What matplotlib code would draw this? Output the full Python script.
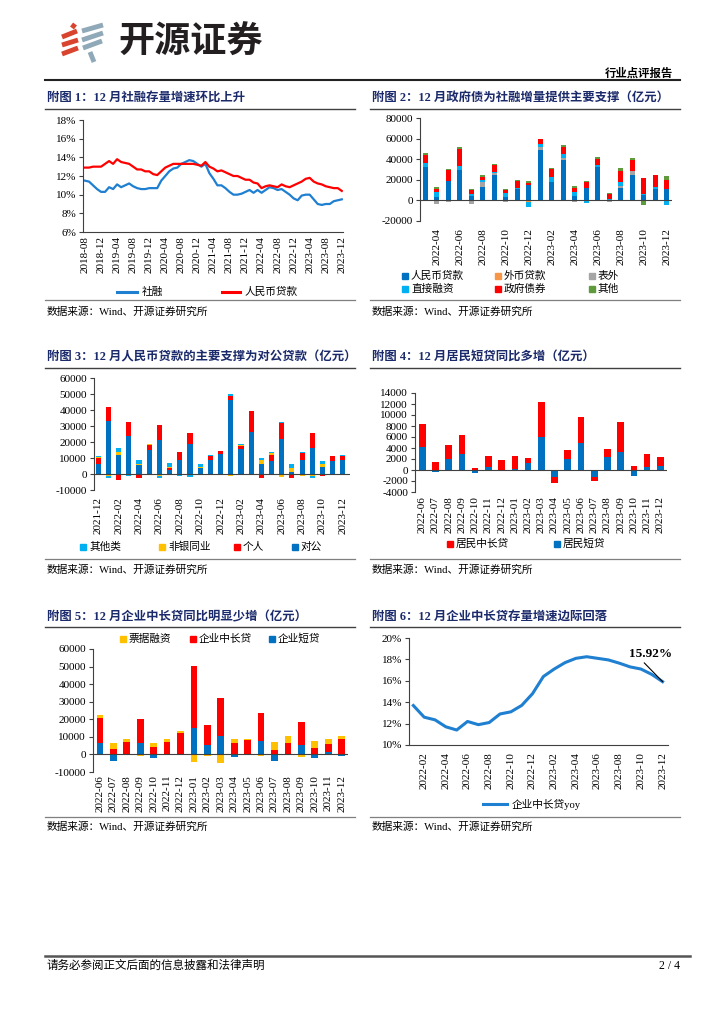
import numpy as np
import pandas as pd
import matplotlib
matplotlib.use('Agg')
import matplotlib.pyplot as plt
from matplotlib.lines import Line2D
from matplotlib.patches import Rectangle
from matplotlib.ticker import FuncFormatter

plt.rcParams['font.family'] = ['Liberation Serif', 'Noto Sans CJK SC']
plt.rcParams['axes.unicode_minus'] = False

# ---------------- data ----------------
# fig 1: stock growth, monthly 2018-08 .. 2023-12
months1 = [p.strftime('%Y-%m') for p in pd.period_range('2018-08', '2023-12', freq='M')]
shrz_yoy = [11.5, 11.4, 11.0, 10.6, 10.3, 10.3, 10.8, 10.6, 11.1, 10.8,
            11.0, 11.2, 10.9, 10.7, 10.6, 10.6, 10.7, 10.7, 10.7, 11.5,
            12.0, 12.5, 12.8, 12.9, 13.3, 13.5, 13.7, 13.6, 13.3, 13.0,
            13.3, 12.3, 11.7, 11.0, 11.0, 10.7, 10.3, 10.0, 10.0, 10.1,
            10.3, 10.5, 10.2, 10.5, 10.2, 10.5, 10.8, 10.7, 10.5, 10.6,
            10.3, 10.0, 9.6, 9.4, 9.9, 10.0, 10.0, 9.5, 9.0, 8.9,
            9.0, 9.0, 9.3, 9.4, 9.5]
rmb_yoy = [12.9, 12.9, 13.0, 13.0, 13.0, 13.3, 13.6, 13.3, 13.8, 13.5,
           13.4, 13.3, 13.0, 12.7, 12.7, 12.5, 12.5, 12.2, 12.1, 12.5,
           12.9, 13.1, 13.3, 13.3, 13.3, 13.3, 13.3, 13.3, 13.2, 13.1,
           13.5, 13.0, 12.8, 12.5, 12.6, 12.4, 12.2, 12.0, 12.0, 11.8,
           11.6, 11.6, 11.3, 11.2, 10.7, 10.9, 11.0, 10.9, 10.8, 11.1,
           10.9, 10.8, 11.0, 11.2, 11.4, 11.7, 11.8, 11.4, 11.2, 11.1,
           10.9, 10.8, 10.7, 10.7, 10.4]

# fig 2: flow of social financing, 2022-03 .. 2023-12 (100m yuan)
months2 = [p.strftime('%Y-%m') for p in pd.period_range('2022-03', '2023-12', freq='M')]
tsf_rmb = [32000, 3500, 19000, 30000, 4000, 12800, 25000, 3500, 11000, 14500, 48500,
           18000, 39000, 4000, 12000, 32000, 500, 12500, 25000, 5000, 11000, 11000]
tsf_fx = [0, 0, 0, 0, 0, 0, 0, 0, 0, -1500, 0,
          0, 0, 0, 0, 0, 0, 0, 0, 0, 0, 0]
tsf_off = [-500, -3500, -1500, 0, -3500, 5000, 1500, -2000, 0, 0, 3000,
           0, 2500, -1500, 0, -1000, -1500, 1500, 3500, -1000, 0, 0]
tsf_direct = [4700, 4500, 0, 3000, 2500, 2200, 1500, 4000, 1500, -4500, 3500,
              4500, 4000, 4000, -2500, 2500, 1000, 4000, 500, 1500, 2000, -4000]
tsf_gov = [7500, 3500, 10500, 16500, 3500, 3000, 6000, 2500, 6000, 2500, 4500,
           8000, 6000, 4500, 5500, 6000, 4500, 11000, 10000, 15500, 11500, 9000]
tsf_other = [2000, 1500, 800, 2500, 1500, 1500, 1500, 1000, 1500, 2000, 500,
             1000, 2000, 1000, 1000, 2000, 1500, 2000, 2500, -3000, 0, 3500]

# fig 3: rmb loans by borrower, 2021-12 .. 2023-12
months3 = [p.strftime('%Y-%m') for p in pd.period_range('2021-12', '2023-12', freq='M')]
ln_corp = [6500, 33000, 12000, 24000, 5500, 15000, 21500, 2500, 8500, 18500, 4000, 8500, 12500,
           46500, 15500, 26500, 6500, 8000, 22000, 1500, 9000, 16500, 4500, 8000, 9000]
ln_hh = [3500, 9000, -3500, 8500, -2500, 3000, 9000, 1000, 5000, 7000, -500, 2500, 2000,
         2500, 2000, 13000, -2500, 4000, 10000, -2500, 4000, 9000, -1000, 3500, 2000]
ln_nonbank = [500, -1000, 1500, 0, 1000, 500, -1000, 1000, 0, -700, 500, -500, 0,
              -1000, 500, -500, 2000, 1000, -2000, 2500, -1000, -1500, 2000, 0, 0]
ln_others = [1000, -1500, 2500, -1000, 2000, 500, -1500, 2500, -1000, -1000, 2000, 1000, -500,
             1000, 500, 0, 1500, 1000, 500, 2000, 1000, -1000, 1500, -500, 1000]

# fig 4 / 5: 2022-06 .. 2023-12
months45 = [p.strftime('%Y-%m') for p in pd.period_range('2022-06', '2023-12', freq='M')]
hh_short = [4200, -300, 2000, 3000, -500, 500, -200, 250, 1200, 6000,
            -1200, 2000, 4900, -1300, 2300, 3200, -1100, 500, 700]
hh_long = [4200, 1400, 2600, 3400, 300, 2100, 1800, 2250, 900, 6400,
           -1200, 1700, 4700, -700, 1600, 5500, 700, 2400, 1600]
co_short = [6500, -3500, -300, 6300, -2000, -300, -400, 15000, 5500, 10500,
            -1200, -300, 7500, -3800, -300, 5500, -1800, 1500, -700]
co_long = [14500, 3000, 7000, 14000, 4300, 7000, 12000, 35500, 11500, 21500,
           6500, 8000, 16000, 2300, 6500, 13000, 3700, 4500, 8500]
co_bill = [1500, 3500, 2000, -1000, 2300, 2000, 1500, -4500, -1000, -4800,
           2000, 800, -1000, 4500, 3800, -1500, 3800, 2500, 2000]

# fig 6: corporate mid/long-term loan growth, 2022-01 .. 2023-12
months6 = [p.strftime('%Y-%m') for p in pd.period_range('2022-01', '2023-12', freq='M')]
co_long_yoy = [13.69, 12.6, 12.35, 11.7, 11.4, 12.2, 11.9, 12.1, 12.9, 13.1, 13.7, 14.8,
               16.4, 17.1, 17.7, 18.1, 18.25, 18.1, 17.95, 17.65, 17.3, 17.1, 16.6, 15.92]

# ---------------- colours ----------------
NAVY = '#1b2a6b'
DBLUE = '#0070c0'
LBLUE = '#00b0f0'
LINEBLUE = '#1f7fd0'
RED = '#ff0000'
ORANGE = '#f79646'
GREY = '#a5a5a5'
GREEN = '#5f9b3c'
YELLOW = '#ffc000'
AXC = '#404040'

W, H = 724, 1024
fig = plt.figure(figsize=(W / 100, H / 100), dpi=100)


def add_ax(l, t, w, h):
    return fig.add_axes([l / W, 1 - (t + h) / H, w / W, h / H])


def txt(x, y, s, size=7.7, **kw):
    kw.setdefault('va', 'center')
    fig.text(x / W, 1 - y / H, s, fontsize=size, **kw)


def rule(x0, x1, y, lw=0.8, color='#7f7f7f'):
    fig.add_artist(Line2D([x0 / W, x1 / W], [1 - y / H] * 2, lw=lw, color=color))


def key_box(x, y, color, label):
    fig.add_artist(Rectangle(((x - 3) / W, 1 - (y + 3) / H), 6 / W, 6 / H,
                             color=color, transform=fig.transFigure))
    txt(x + 6, y, label)


def key_line(x0, x1, y, color, label, lw=2.2):
    fig.add_artist(Line2D([x0 / W, x1 / W], [1 - y / H] * 2, lw=lw, color=color))
    txt(x1 + 5, y, label)


def style(ax, zero_line=True, xpad=4):
    for s in ('top', 'right'):
        ax.spines[s].set_visible(False)
    ax.spines['left'].set_color(AXC)
    ax.spines['left'].set_linewidth(0.8)
    if zero_line:
        ax.spines['bottom'].set_visible(False)
        ax.axhline(0, color=AXC, lw=0.8, zorder=3)
    else:
        ax.spines['bottom'].set_color(AXC)
        ax.spines['bottom'].set_linewidth(0.8)
    ax.tick_params(axis='x', length=0, labelrotation=90, labelsize=8, pad=xpad)
    ax.tick_params(axis='y', length=3, width=0.8, labelsize=8, pad=2, color=AXC)
    ax.set_facecolor('none')


def stacked(ax, layers, width):
    x = np.arange(len(layers[0][0]))
    up = np.zeros(len(x))
    down = np.zeros(len(x))
    for vals, color in layers:
        v = np.asarray(vals, float)
        ax.bar(x, v, width, bottom=np.where(v >= 0, up, down), color=color, lw=0, zorder=2)
        up += np.clip(v, 0, None)
        down += np.clip(v, None, 0)
    return x


pct = FuncFormatter(lambda v, p: f'{v:.0f}%')

# ---------------- header / footer ----------------
for (x0, y0, x1, y1) in [(72, 28, 75, 24), (62, 37, 77, 31), (62, 45, 78, 40), (62, 54, 78, 48)]:
    fig.add_artist(Line2D([x0 / W, x1 / W], [1 - y0 / H, 1 - y1 / H], lw=3.5,
                          color='#d9442e', solid_capstyle='butt'))
for (x0, y0, x1, y1) in [(82, 31, 103, 25), (82, 40, 103, 33), (83, 48, 102, 41), (90, 52, 94, 62)]:
    fig.add_artist(Line2D([x0 / W, x1 / W], [1 - y0 / H, 1 - y1 / H], lw=3.5,
                          color='#8fa9b8', solid_capstyle='butt'))
txt(118, 42, '开源证券', size=26, weight='bold', family='Noto Sans CJK SC', color='#231f20')
txt(673, 73, '行业点评报告', size=8.2, weight='bold', ha='right')
rule(45, 680, 80, lw=1.5, color='#222222')

rule(45, 690, 956, lw=1.8, color='#555555')
txt(46, 966, '请务必参阅正文后面的信息披露和法律声明', size=8.3)
txt(680, 966, '2 / 4', size=8.5, ha='right')

# titles, rules and sources
titles = [(47, 98, '附图 1：12 月社融存量增速环比上升'),
          (372, 98, '附图 2：12 月政府债为社融增量提供主要支撑（亿元）'),
          (47, 357, '附图 3：12 月人民币贷款的主要支撑为对公贷款（亿元）'),
          (372, 357, '附图 4：12 月居民短贷同比多增（亿元）'),
          (47, 617, '附图 5：12 月企业中长贷同比明显少增（亿元）'),
          (372, 617, '附图 6：12 月企业中长贷存量增速边际回落')]
for x, y, s in titles:
    txt(x, y, s, size=8.9, weight='bold', color=NAVY)
for y_line in (109, 368, 627):
    rule(45, 355, y_line, lw=1.0, color=AXC)
    rule(370, 680, y_line, lw=1.0, color=AXC)
for y_line, y_src in [(300, 312), (559, 570), (817, 827)]:
    rule(45, 355, y_line, lw=0.9)
    rule(370, 680, y_line, lw=0.9)
    txt(47, y_src, '数据来源：Wind、开源证券研究所')
    txt(372, y_src, '数据来源：Wind、开源证券研究所')

# ---------------- chart 1 ----------------
ax1 = add_ax(83, 120, 260, 112)
x1 = np.arange(len(months1))
ax1.plot(x1, shrz_yoy, color=LINEBLUE, lw=1.6)
ax1.plot(x1, rmb_yoy, color=RED, lw=1.6)
ax1.set_ylim(6, 18)
ax1.set_yticks(range(6, 19, 2))
ax1.yaxis.set_major_formatter(pct)
ax1.set_xlim(-0.5, len(x1) - 0.7)
ax1.set_xticks(x1[::4])
ax1.set_xticklabels(months1[::4])
style(ax1, zero_line=False, xpad=3)
key_line(117, 137, 292, LINEBLUE, '社融')
key_line(222, 240, 292, RED, '人民币贷款')

# ---------------- chart 2 ----------------
ax2 = add_ax(420, 118, 252, 103)
x2 = stacked(ax2, [(tsf_rmb, DBLUE), (tsf_fx, ORANGE), (tsf_off, GREY),
                   (tsf_direct, LBLUE), (tsf_gov, RED), (tsf_other, GREEN)], 0.45)
ax2.set_ylim(-20000, 80000)
ax2.set_yticks(range(-20000, 80001, 20000))
ax2.set_xlim(-0.45, len(x2) - 0.55)
ax2.set_xticks(x2[1::2])
ax2.set_xticklabels(months2[1::2])
style(ax2, xpad=5)
for col, (c, lab) in enumerate([(DBLUE, '人民币贷款'), (ORANGE, '外币贷款'), (GREY, '表外')]):
    key_box([405, 498, 592][col], 276, c, lab)
for col, (c, lab) in enumerate([(LBLUE, '直接融资'), (RED, '政府债券'), (GREEN, '其他')]):
    key_box([405, 498, 592][col], 289, c, lab)

# ---------------- chart 3 ----------------
ax3 = add_ax(94, 378, 256, 112)
x3 = stacked(ax3, [(ln_corp, DBLUE), (ln_hh, RED), (ln_nonbank, YELLOW), (ln_others, LBLUE)], 0.5)
ax3.set_ylim(-10000, 60000)
ax3.set_yticks(range(-10000, 60001, 10000))
ax3.set_xlim(-0.42, len(x3) - 0.3)
ax3.set_xticks(x3[::2])
ax3.set_xticklabels(months3[::2])
style(ax3, xpad=5)
for xk, c, lab in [(83, LBLUE, '其他类'), (162, YELLOW, '非银同业'), (237, RED, '个人'), (295, DBLUE, '对公')]:
    key_box(xk, 547, c, lab)

# ---------------- chart 4 ----------------
ax4 = add_ax(415, 393, 252, 99)
x4 = stacked(ax4, [(hh_short, DBLUE), (hh_long, RED)], 0.5)
ax4.set_ylim(-4000, 14000)
ax4.set_yticks(range(-4000, 14001, 2000))
ax4.set_xlim(-0.55, len(x4) - 0.5)
ax4.set_xticks(x4)
ax4.set_xticklabels(months45)
style(ax4, xpad=3)
key_box(450, 544, RED, '居民中长贷')
key_box(557, 544, DBLUE, '居民短贷')

# ---------------- chart 5 ----------------
ax5 = add_ax(93, 649, 255, 123)
x5 = stacked(ax5, [(co_short, DBLUE), (co_long, RED), (co_bill, YELLOW)], 0.5)
ax5.set_ylim(-10000, 60000)
ax5.set_yticks(range(-10000, 60001, 10000))
ax5.set_xlim(-0.52, len(x5) - 0.53)
ax5.set_xticks(x5)
ax5.set_xticklabels(months45)
style(ax5, xpad=2)
key_box(123, 639, YELLOW, '票据融资')
key_box(193, 639, RED, '企业中长贷')
key_box(272, 639, DBLUE, '企业短贷')

# ---------------- chart 6 ----------------
ax6 = add_ax(409, 638, 259, 107)
x6 = np.arange(len(months6))
ax6.plot(x6, co_long_yoy, color=LINEBLUE, lw=2.2)
ax6.set_ylim(10, 20)
ax6.set_yticks(range(10, 21, 2))
ax6.yaxis.set_major_formatter(pct)
ax6.set_xlim(-0.4, len(x6) - 0.5)
ax6.set_xticks(x6[1::2])
ax6.set_xticklabels(months6[1::2])
style(ax6, zero_line=False, xpad=5)
ax6.annotate(f'{co_long_yoy[-1]:.2f}%', xy=(x6[-1], co_long_yoy[-1]), xytext=(21.85, 18.5),
             fontsize=9.5, weight='bold', ha='center', va='center',
             arrowprops=dict(arrowstyle='-', color='black', lw=0.8,
                             shrinkA=0, shrinkB=0, relpos=(0.3, 0)))
key_line(483, 507, 804, LINEBLUE, '企业中长贷yoy')

fig.savefig('out.png', dpi=100)
